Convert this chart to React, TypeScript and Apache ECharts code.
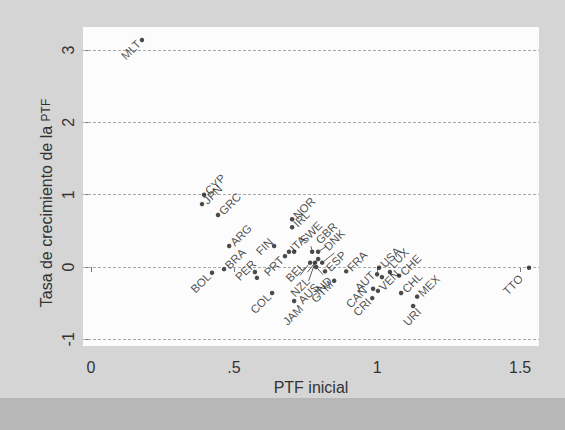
import React, { useEffect, useRef } from 'react';
import * as echarts from 'echarts';

// ---- data ----
const countries = [
  'MLT', 'CYP', 'JPN', 'GRC', 'ARG', 'BRA', 'BOL', 'PER', '', 'COL',
  'FIN', 'PRT', 'ITA', '', 'NOR', 'IRL', 'SWE', 'GBR', 'BEL', 'NZL',
  'AUS', 'IND', 'DNK', 'ESP', 'GTM', 'JAM', 'FRA', 'USA', 'AUT', '',
  'CAN', 'VEN', 'CRI', 'LUX', 'CHE', 'CHL', 'MEX', 'URI', 'TTO',
];
const ptfInicial = [
  0.178, 0.395, 0.388, 0.444, 0.483, 0.465, 0.423, 0.573, 0.580, 0.633,
  0.640, 0.678, 0.692, 0.710, 0.703, 0.703, 0.773, 0.794, 0.794, 0.766,
  0.783, 0.787, 0.808, 0.818, 0.850, 0.710, 0.892, 1.007, 1.000, 1.017,
  0.986, 1.003, 0.983, 1.045, 1.077, 1.084, 1.140, 1.126, 1.531,
];
const crecimientoPTF = [
  3.14, 1.00, 0.87, 0.72, 0.29, -0.03, -0.08, -0.07, -0.15, -0.36,
  0.29, 0.15, 0.21, 0.21, 0.66, 0.55, 0.21, 0.21, 0.11, 0.06,
  0.06, 0.00, 0.06, -0.06, -0.19, -0.47, -0.06, -0.01, -0.10, -0.14,
  -0.30, -0.33, -0.43, -0.07, -0.12, -0.36, -0.41, -0.54, -0.01,
];
const xTicks = [0, 0.5, 1, 1.5];
const xTickLabels = ['0', '.5', '1', '1.5'];
const yTicks = [-1, 0, 1, 2, 3];

// ---- styles ----
const SYM = 4.5;
const FONT = '"Liberation Sans", Arial, sans-serif';
const UR: [number, number, 'left' | 'right'] = [3, -2, 'left'];
const LL: [number, number, 'left' | 'right'] = [-3, 2, 'right'];
const placement: Record<string, [number, number, 'left' | 'right']> = {
  MLT: LL, BOL: LL, COL: LL, PRT: LL, GTM: LL, CRI: LL, AUT: [-4, -1, 'right'],
  CAN: [-8, 0, 'right'], PER: [-1, -10, 'right'], FIN: [-3, -6, 'right'],
  JAM: [7, 6, 'right'], URI: [6, 4, 'right'], TTO: [-8, 9, 'right'],
  LUX: [1, -6, 'left'], BEL: LL, NZL: LL, AUS: LL, IND: LL,
};
const leaders: Record<string, [number, number]> = {
  SWE: [-4, -15], GBR: [3, -8], DNK: [9, -8], BEL: [-11, -6],
  NZL: [-10, 11], AUS: [-11, 18], IND: [5, 19],
};

function labelFor(c: string) {
  const p = placement[c] ?? UR;
  return {
    show: c !== '',
    formatter: '{b}',
    position: [SYM / 2 + p[0], SYM / 2 + p[1]],
    align: p[2],
    verticalAlign: 'middle',
    rotate: 45,
    fontSize: 11.5,
    fontFamily: FONT,
    color: '#1e1e1e',
    textBorderWidth: 0,
  };
}

export default function App() {
  const ref = useRef<HTMLDivElement>(null);
  useEffect(() => {
    if (!ref.current) return;
    const chart = echarts.init(ref.current, null, { renderer: 'svg' });
    const all = countries.map((c, i) => ({
      name: c,
      value: [ptfInicial[i], crecimientoPTF[i]],
      label: labelFor(c),
    }));
    const plain = all.filter((d) => !(d.name in leaders));
    const lead = all.filter((d) => d.name in leaders);

    const xMin = -0.028, xMax = 1.566, yMin = -1.093, yMax = 3.32;

    chart.setOption({
      animation: false,
      backgroundColor: '#d5d5d5',
      graphic: [
        { type: 'rect', left: 0, top: 398, shape: { width: 565, height: 32 }, style: { fill: '#b7b7b7' }, z: -10 },
        {
          type: 'text', x: 46, y: 203, rotation: Math.PI / 2,
          style: {
            text: 'Tasa de crecimiento de la {s|PTF}',
            align: 'center', verticalAlign: 'middle',
            fontSize: 16, fontFamily: FONT, fill: '#333',
            rich: { s: { fontSize: 12, fontFamily: FONT, fill: '#333' } },
          },
        },
      ],
      grid: { left: 83, top: 27, width: 456, height: 319, show: true, backgroundColor: '#fcfcfc', borderWidth: 0 },
      xAxis: {
        type: 'value', min: xMin, max: xMax,
        axisLine: { show: false },
        axisTick: { show: true, customValues: xTicks, length: 5, lineStyle: { color: '#777' } },
        axisLabel: {
          customValues: xTicks, margin: 13, fontSize: 16, fontFamily: FONT, color: '#333',
          formatter: (v: number) => xTickLabels[xTicks.indexOf(v)] ?? '',
        },
        splitLine: { show: false },
        name: 'PTF inicial', nameLocation: 'middle', nameGap: 33,
        nameTextStyle: { fontSize: 16, fontFamily: FONT, color: '#333' },
      },
      yAxis: {
        type: 'value', min: yMin, max: yMax,
        axisLine: { show: false },
        axisTick: { show: true, customValues: yTicks, length: 5, lineStyle: { color: '#777' } },
        axisLabel: { customValues: yTicks, rotate: 90, margin: 7, fontSize: 16, fontFamily: FONT, color: '#333' },
        splitLine: { show: false },
      },
      series: [
        {
          type: 'scatter', symbol: 'circle', symbolSize: SYM,
          itemStyle: { color: '#1e1e1e' },
          data: plain,
          markLine: {
            silent: true, symbol: 'none', label: { show: false },
            lineStyle: { color: '#a8a8a8', width: 1, type: [3, 2] },
            data: yTicks.map((v) => ({ yAxis: v })),
            z: 1,
          },
        },
        {
          type: 'scatter', symbol: 'circle', symbolSize: SYM,
          itemStyle: { color: '#1e1e1e' },
          data: lead,
          labelLine: { show: true, lineStyle: { color: '#333', width: 0.8 } },
          labelLayout: (params: any) => {
            const off = leaders[lead[params.dataIndex].name];
            return off ? { dx: off[0], dy: off[1] } : {};
          },
        },
      ],
    });
    return () => chart.dispose();
  }, []);
  return <div ref={ref} style={{ position: 'fixed', left: 0, top: 0, width: 565, height: 430 }} />;
}
